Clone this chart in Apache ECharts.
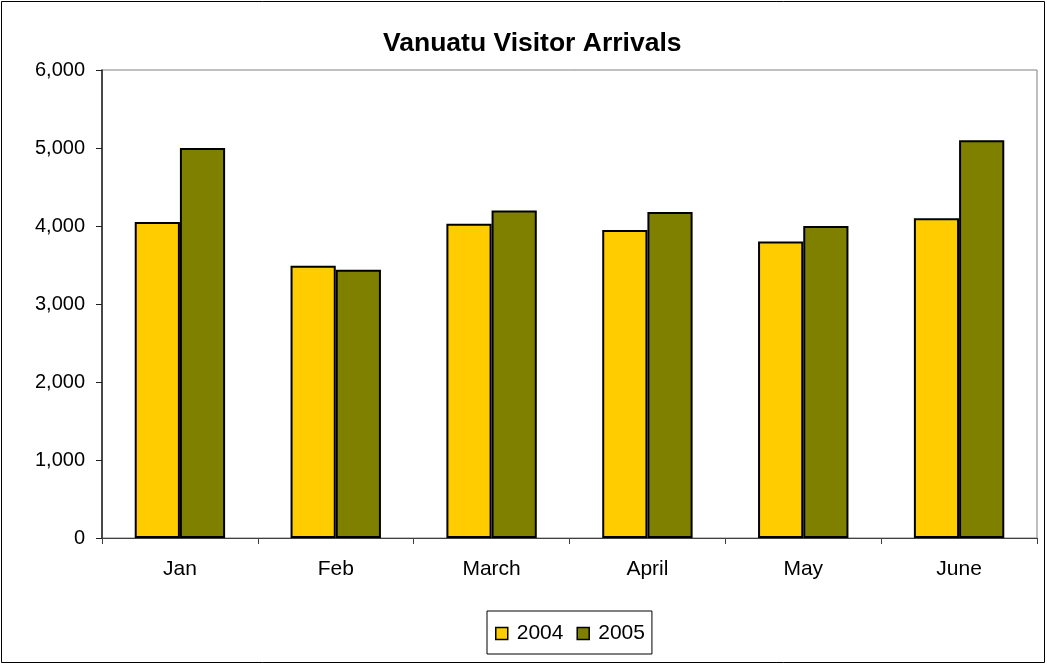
<!DOCTYPE html>
<html><head><meta charset="utf-8">
<script src="https://cdn.jsdelivr.net/npm/echarts@6/dist/echarts.min.js"></script>
<style>html,body{margin:0;padding:0;background:#fff}#c{width:1047px;height:664px}</style>
</head><body><div id="c"></div>
<script>
const categories = ['Jan','Feb','March','April','May','June'];
const series2004 = [4050, 3490, 4030, 3950, 3800, 4100];
const series2005 = [5000, 3440, 4200, 4180, 4000, 5100];
const yTicks = {min: 0, max: 6000, interval: 1000};

const chart = echarts.init(document.getElementById('c'));
const font = 'Liberation Sans, Arial, sans-serif';
chart.setOption({
  animation: false,
  backgroundColor: '#fff',
  title: {
    text: 'Vanuatu Visitor Arrivals', left: 383, top: 30, padding: 0,
    textStyle: {fontFamily: font, fontSize: 26.5, fontWeight: 'bold', color: '#000'}
  },
  graphic: [{type: 'rect', shape: {x: 1.5, y: 1.5, width: 1043, height: 661}, style: {fill: 'none', stroke: '#000', lineWidth: 1}, silent: true}],
  grid: {left: 102, right: 10, top: 70, bottom: 126, show: true, borderColor: '#808080', borderWidth: 1, backgroundColor: 'transparent'},
  legend: {
    left: 487, top: 611, itemWidth: 12, itemHeight: 12, itemGap: 13,
    padding: [12, 7, 10, 8],
    borderColor: '#000', borderWidth: 1,
    textStyle: {fontFamily: font, fontSize: 21, color: '#000', padding: [0, 0, 0, 4]},
    icon: 'rect',
    itemStyle: {borderColor: '#000', borderWidth: 1.5}
  },
  xAxis: {
    type: 'category', data: categories,
    axisLine: {lineStyle: {color: '#404040', width: 1}},
    axisTick: {show: true, length: 6, lineStyle: {color: '#404040'}},
    axisLabel: {fontFamily: font, fontSize: 21, color: '#000', margin: 21}
  },
  yAxis: {
    type: 'value', min: yTicks.min, max: yTicks.max, interval: yTicks.interval,
    axisLine: {show: true, lineStyle: {color: '#202020', width: 1.5}},
    axisTick: {show: true, length: 6, lineStyle: {color: '#202020'}},
    splitLine: {show: false},
    axisLabel: {fontFamily: font, fontSize: 20, color: '#000', margin: 17,
      formatter: v => v.toLocaleString('en-US')}
  },
  series: [
    {name: '2004', type: 'bar', data: series2004, barGap: '0%', barCategoryGap: '42%',
     itemStyle: {color: '#FFCC00', borderColor: '#000', borderWidth: 2}},
    {name: '2005', type: 'bar', data: series2005,
     itemStyle: {color: '#808000', borderColor: '#000', borderWidth: 2}}
  ]
});
</script></body></html>
